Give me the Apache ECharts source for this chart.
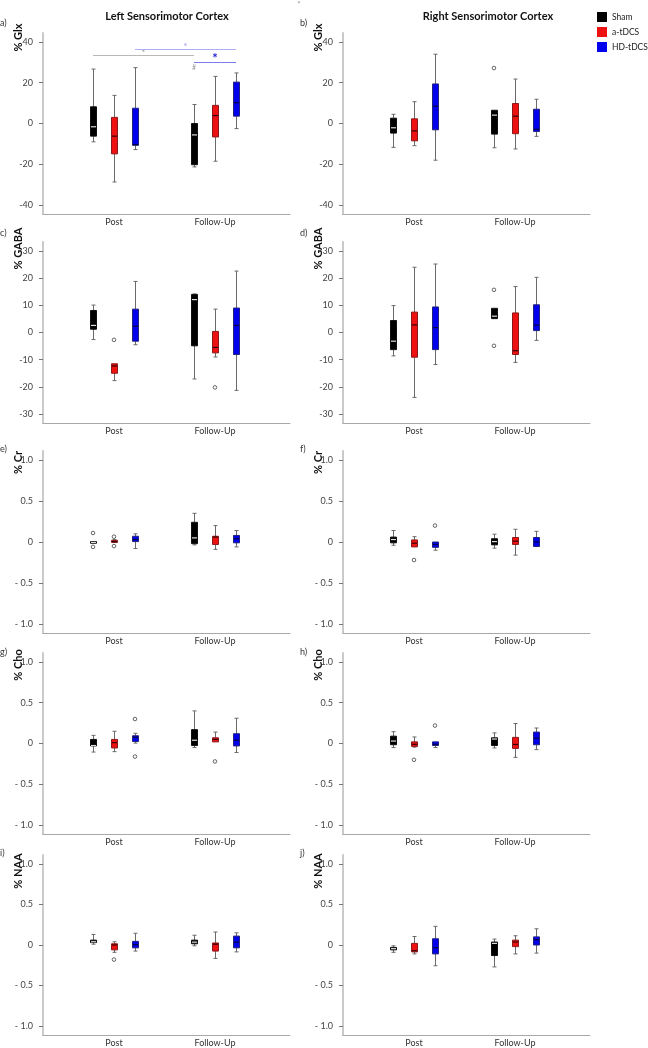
<!DOCTYPE html>
<html>
<head>
<meta charset="utf-8">
<script src="https://cdn.jsdelivr.net/npm/echarts@6/dist/echarts.min.js"></script>
<style>
html,body{margin:0;padding:0;background:#fff;}
#chart{width:648px;height:1048px;}
</style>
</head>
<body>
<div id="chart"></div>
<script>
// ---------------- DATA ----------------
const categories = ['Post', 'Follow-Up'];
const treatments = ['Sham', 'a-tDCS', 'HD-tDCS'];
const hemispheres = ['Left Sensorimotor Cortex', 'Right Sensorimotor Cortex'];
const metabolites = ['% Glx', '% GABA', '% Cr', '% Cho', '% NAA'];
const panelLetters = ['a)', 'b)', 'c)', 'd)', 'e)', 'f)', 'g)', 'h)', 'i)', 'j)'];

const glxTicks = [-40, -20, 0, 20, 40];
const glxTickLabels = ['-40', '-20', '0', '20', '40'];
const gabaTicks = [-30, -20, -10, 0, 10, 20, 30];
const gabaTickLabels = ['-30', '-20', '-10', '0', '10', '20', '30'];
const ratioTicks = [-1, -0.5, 0, 0.5, 1];
const ratioTickLabels = ['- 1.0', '- 0.5', '0', '0.5', '1.0'];

// box stats per treatment (Sham, a-tDCS, HD-tDCS): [Post, Follow-Up], each [min, q1, median, q3, max]
const glxLeft = [
  [[-9.0, -6.2, -1.6, 8.2, 26.7], [-21.3, -20.2, -5.6, 0.0, 9.3]],
  [[-28.7, -14.9, -6.2, 3.0, 13.8], [-18.5, -6.6, 3.9, 8.9, 23.1]],
  [[-12.8, -10.7, -10.3, 7.5, 27.4], [-2.5, 3.6, 10.2, 20.3, 24.8]]
];
const glxRight = [
  [[-11.7, -4.7, -2.1, 2.6, 4.5], [-11.9, -5.2, 4.1, 6.5, 6.5]],
  [[-10.9, -8.5, -3.6, 2.3, 10.7], [-12.5, -5.0, 3.6, 9.8, 21.8]],
  [[-18.0, -3.1, 8.5, 19.4, 34.0], [-6.3, -3.9, -2.8, 7.0, 11.9]]
];
const gabaLeft = [
  [[-2.6, 1.2, 2.6, 8.1, 10.1], [-17.1, -4.9, 12.1, 14.0, 14.2]],
  [[-17.7, -15.0, -12.3, -11.5, -11.5], [-9.0, -7.5, -5.5, 0.4, 8.6]],
  [[-4.5, -3.2, 2.3, 8.6, 18.8], [-21.3, -8.1, 2.6, 9.0, 22.6]]
];
const gabaRight = [
  [[-8.6, -6.3, -3.2, 4.4, 9.9], [5.1, 5.1, 6.0, 8.9, 8.9]],
  [[-23.9, -9.1, 2.8, 7.5, 24.0], [-11.0, -8.1, -6.7, 7.2, 16.9]],
  [[-11.8, -6.3, 1.8, 9.4, 25.2], [-2.9, 0.7, 2.7, 10.2, 20.3]]
];
const crLeft = [
  [[-0.02, -0.015, -0.005, 0.005, 0.01], [-0.035, -0.02, 0.05, 0.24, 0.35]],
  [[-0.01, -0.005, 0.005, 0.02, 0.03], [-0.09, -0.03, 0.06, 0.07, 0.20]],
  [[-0.08, 0.005, 0.03, 0.07, 0.10], [-0.06, -0.01, 0.04, 0.08, 0.14]]
];
const crRight = [
  [[-0.04, -0.01, 0.03, 0.06, 0.14], [-0.075, -0.035, 0.005, 0.04, 0.095]],
  [[-0.06, -0.06, -0.015, 0.025, 0.065], [-0.16, -0.03, 0.01, 0.055, 0.155]],
  [[-0.10, -0.065, -0.03, 0.0, 0.0], [-0.06, -0.055, 0.0, 0.055, 0.13]]
];
const choLeft = [
  [[-0.105, -0.03, -0.025, 0.05, 0.10], [-0.05, -0.025, 0.04, 0.17, 0.40]],
  [[-0.10, -0.055, 0.01, 0.05, 0.15], [0.02, 0.02, 0.05, 0.07, 0.14]],
  [[0.005, 0.025, 0.077, 0.095, 0.125], [-0.11, -0.03, 0.04, 0.12, 0.31]]
];
const choRight = [
  [[-0.05, -0.015, 0.03, 0.09, 0.145], [-0.055, -0.025, 0.055, 0.07, 0.13]],
  [[-0.045, -0.035, -0.01, 0.02, 0.08], [-0.17, -0.06, -0.012, 0.075, 0.245]],
  [[-0.05, -0.025, -0.01, 0.02, 0.02], [-0.075, -0.015, 0.065, 0.14, 0.19]]
];
const naaLeft = [
  [[0.01, 0.03, 0.04, 0.06, 0.13], [-0.01, 0.015, 0.035, 0.06, 0.12]],
  [[-0.09, -0.06, 0.0, 0.015, 0.04], [-0.165, -0.075, 0.01, 0.025, 0.16]],
  [[-0.075, -0.035, 0.005, 0.045, 0.145], [-0.085, -0.035, 0.035, 0.11, 0.15]]
];
const naaRight = [
  [[-0.09, -0.06, -0.045, -0.03, -0.01], [-0.27, -0.13, 0.02, 0.037, 0.073]],
  [[-0.11, -0.085, -0.07, 0.02, 0.105], [-0.11, -0.02, 0.037, 0.06, 0.114]],
  [[-0.256, -0.11, -0.033, 0.077, 0.23], [-0.1, 0.0, 0.065, 0.1, 0.2]]
];

// outliers: [treatmentIndex, categoryIndex, value]
const glxLeftOut = [];
const glxRightOut = [[0, 1, 27.2]];
const gabaLeftOut = [[1, 0, -2.7], [1, 1, -20.2]];
const gabaRightOut = [[0, 1, 15.7], [0, 1, -4.9]];
const crLeftOut = [[0, 0, 0.11], [0, 0, -0.06], [1, 0, 0.065], [1, 0, -0.05]];
const crRightOut = [[1, 0, -0.22], [2, 0, 0.20]];
const choLeftOut = [[2, 0, 0.30], [2, 0, -0.16], [1, 1, -0.22]];
const choRightOut = [[1, 0, -0.20], [2, 0, 0.22]];
const naaLeftOut = [[1, 0, -0.18]];
const naaRightOut = [];

// significance bars in panel a: [fromCat, fromTreatment, toCat, toTreatment, value, styleIndex]
const sigBars = [[0, 0, 1, 0, 33.7, 0], [0, 2, 1, 2, 36.6, 1], [1, 0, 1, 2, 30.2, 2]];
const sigStars = ['*', '*', '*'];
const hashMark = [1, 0, 27.5]; // '#' above sham follow-up, panel a

// ---------------- STYLE / LAYOUT ----------------
const FONT = 'Lato, "Open Sans", sans-serif';
const fills = ['#000000', '#ee1111', '#0000ee'];
const borders = ['#111111', '#8a1a1a', '#22227a'];
const medians = ['#dddddd', '#330000', '#000044'];
const whiskerColor = '#6a6a6a';
const OFFSETS = [-21, 0, 21];
const HALF_W = 3, CAP_W = 2;
const sigLineColors = ['#b8b8b8', '#aeaef2', '#7c7cee'];
const sigStarColors = ['#9a9a9a', '#9c9cee', '#1c1cd6'];
const sigStarSizes = [10, 10, 13];

const colLeft = [43, 343];
const gridWidth = 247;
const rowTop = [33, 242, 451, 653, 855];
const rowHeight = [181, 181, 182, 181, 182];
const rowRange = [44.4, 33.3, 1.11, 1.11, 1.11];
const rowTicks = [glxTicks, gabaTicks, ratioTicks, ratioTicks, ratioTicks];
const rowTickLabels = [glxTickLabels, gabaTickLabels, ratioTickLabels, ratioTickLabels, ratioTickLabels];
const xMin = 0.297, xMax = 2.743;

const panelStats = [glxLeft, glxRight, gabaLeft, gabaRight, crLeft, crRight, choLeft, choRight, naaLeft, naaRight];
const panelOut = [glxLeftOut, glxRightOut, gabaLeftOut, gabaRightOut, crLeftOut, crRightOut, choLeftOut, choRightOut, naaLeftOut, naaRightOut];

const nameCenterY = [37.5, 248.5, 462.5, 665, 871];
const nameX = [18.5, 318.5];
const letterX = [0, 300];
const letterY = [23, 233, 449, 652, 853];

function px(v) { return Math.round(v) + 0.5; }

function boxRender(t) {
  return function (params, api) {
    const x = api.value(0);
    const mn = api.value(1), q1 = api.value(2), md = api.value(3), q3 = api.value(4), mx = api.value(5);
    const cx = px(api.coord([x, md])[0] + OFFSETS[t]);
    const y = v => api.coord([x, v])[1];
    const yMin = y(mn), yQ1 = y(q1), yMd = y(md), yQ3 = y(q3), yMax = y(mx);
    const ls = { stroke: whiskerColor, lineWidth: 1 };
    const children = [];
    if (yMax < yQ3 - 0.5) {
      children.push({ type: 'line', shape: { x1: cx, y1: yMax, x2: cx, y2: yQ3 }, style: ls });
      children.push({ type: 'line', shape: { x1: cx - CAP_W, y1: yMax, x2: cx + CAP_W, y2: yMax }, style: ls });
    }
    if (yMin > yQ1 + 0.5) {
      children.push({ type: 'line', shape: { x1: cx, y1: yQ1, x2: cx, y2: yMin }, style: ls });
      children.push({ type: 'line', shape: { x1: cx - CAP_W, y1: yMin, x2: cx + CAP_W, y2: yMin }, style: ls });
    }
    children.push({
      type: 'rect',
      shape: { x: cx - HALF_W, y: yQ3, width: HALF_W * 2, height: Math.max(yQ1 - yQ3, 1.5) },
      style: { fill: fills[t], stroke: borders[t], lineWidth: 1 }
    });
    children.push({
      type: 'line',
      shape: { x1: cx - HALF_W + 0.5, y1: yMd, x2: cx + HALF_W - 0.5, y2: yMd },
      style: { stroke: medians[t], lineWidth: 1.2 }
    });
    return { type: 'group', children: children };
  };
}

function outlierRender(params, api) {
  const x = api.value(0), v = api.value(1), t = api.value(2);
  const p = api.coord([x, v]);
  return {
    type: 'circle',
    shape: { cx: p[0] + OFFSETS[t], cy: p[1], r: 1.8 },
    style: { fill: '#fff', stroke: '#555', lineWidth: 0.9 }
  };
}

function sigRender(params, api) {
  const c1 = api.value(0), t1 = api.value(1), c2 = api.value(2), t2 = api.value(3), v = api.value(4), s = api.value(5);
  const p1 = api.coord([c1, v]), p2 = api.coord([c2, v]);
  const x1 = p1[0] + OFFSETS[t1], x2 = p2[0] + OFFSETS[t2];
  const yy = Math.round(p1[1]) + 0.5;
  return {
    type: 'group',
    children: [
      { type: 'line', shape: { x1: x1, y1: yy, x2: x2, y2: yy }, style: { stroke: sigLineColors[s], lineWidth: 1.2 } },
      { type: 'text', x: (x1 + x2) / 2, y: yy + (s === 2 ? 3 : 2),
        style: { text: sigStars[s], fill: sigStarColors[s], font: (s === 2 ? 'bold ' : '') + sigStarSizes[s] + 'px ' + FONT,
          align: 'center', verticalAlign: 'bottom', textAlign: 'center', textVerticalAlign: 'bottom' } }
    ]
  };
}

function hashRender(params, api) {
  const p = api.coord([api.value(0), api.value(2)]);
  return {
    type: 'text', x: p[0] + OFFSETS[api.value(1)], y: p[1],
    style: { text: '#', fill: '#999', font: '7px ' + FONT, align: 'center', verticalAlign: 'middle', textAlign: 'center', textVerticalAlign: 'middle' }
  };
}

const grids = [], xAxes = [], yAxes = [], series = [], graphics = [];

for (let p = 0; p < 10; p++) {
  const row = Math.floor(p / 2), col = p % 2;
  grids.push({ left: colLeft[col], top: rowTop[row], width: gridWidth, height: rowHeight[row], containLabel: false });
  xAxes.push({
    gridIndex: p, type: 'value', min: xMin, max: xMax,
    axisLine: { show: true, onZero: false, lineStyle: { color: '#a8a8a8', width: 1 } },
    axisTick: { show: false },
    axisLabel: {
      customValues: [1, 2],
      formatter: v => categories[Math.round(v) - 1],
      fontSize: 9, color: '#333', margin: 4, fontFamily: FONT
    },
    splitLine: { show: false }
  });
  const ticks = rowTicks[row], labels = rowTickLabels[row];
  yAxes.push({
    gridIndex: p, type: 'value', min: -rowRange[row], max: rowRange[row],
    axisLine: { show: true, onZero: false, lineStyle: { color: '#cacaca', width: 2 } },
    axisTick: { show: true, length: 4, customValues: ticks, lineStyle: { color: '#777', width: 1 } },
    axisLabel: {
      customValues: ticks,
      formatter: v => { const i = ticks.findIndex(tv => Math.abs(tv - v) < 1e-9); return i >= 0 ? labels[i] : ''; },
      fontSize: 9, color: '#444', margin: 10, fontFamily: FONT
    },
    splitLine: { show: false }
  });
  for (let t = 0; t < 3; t++) {
    series.push({
      name: treatments[t], type: 'custom', xAxisIndex: p, yAxisIndex: p,
      renderItem: boxRender(t),
      itemStyle: { color: fills[t] },
      encode: { x: 0, y: [1, 2, 3, 4, 5] },
      data: panelStats[p][t].map((s, c) => [c + 1].concat(s)),
      z: 3, silent: true
    });
  }
  if (panelOut[p].length) {
    series.push({
      type: 'custom', xAxisIndex: p, yAxisIndex: p, renderItem: outlierRender,
      encode: { x: 0, y: 1 },
      data: panelOut[p].map(o => [o[1] + 1, o[2], o[0]]), z: 4, silent: true
    });
  }
  graphics.push({
    type: 'text', x: nameX[col], y: nameCenterY[row], rotation: Math.PI / 2,
    style: { text: metabolites[row], font: 'bold 11px ' + FONT, fill: '#111', align: 'center', verticalAlign: 'middle', textAlign: 'center', textVerticalAlign: 'middle' }
  });
  graphics.push({
    type: 'text', x: letterX[col], y: letterY[row],
    style: { text: panelLetters[p], font: '9px ' + FONT, fill: '#333', align: 'left', verticalAlign: 'middle', textAlign: 'left', textVerticalAlign: 'middle' }
  });
}

series.push({
  type: 'custom', xAxisIndex: 0, yAxisIndex: 0, renderItem: sigRender,
  encode: { x: [0, 2], y: 4 },
  data: sigBars.map(b => [b[0] + 1, b[1], b[2] + 1, b[3], b[4], b[5]]), z: 5, silent: true
});
series.push({
  type: 'custom', xAxisIndex: 0, yAxisIndex: 0, renderItem: hashRender,
  encode: { x: 0, y: 2 },
  data: [[hashMark[0] + 1, hashMark[1], hashMark[2]]], z: 5, silent: true
});

graphics.push({
  type: 'text', x: 167, y: 16,
  style: { text: hemispheres[0], font: 'bold 11px ' + FONT, fill: '#111', align: 'center', verticalAlign: 'middle', textAlign: 'center', textVerticalAlign: 'middle' }
});
graphics.push({
  type: 'text', x: 488, y: 16,
  style: { text: hemispheres[1], font: 'bold 11px ' + FONT, fill: '#111', align: 'center', verticalAlign: 'middle', textAlign: 'center', textVerticalAlign: 'middle' }
});
graphics.push({
  type: 'text', x: 299, y: 4,
  style: { text: '*', font: '8px ' + FONT, fill: '#999', align: 'center', verticalAlign: 'middle', textAlign: 'center', textVerticalAlign: 'middle' }
});

const chart = echarts.init(document.getElementById('chart'), null, { renderer: 'canvas' });
chart.setOption({
  animation: false,
  backgroundColor: '#fff',
  grid: grids,
  xAxis: xAxes,
  yAxis: yAxes,
  legend: {
    data: treatments.map((n, i) => ({ name: n, icon: 'rect', itemStyle: { color: fills[i], borderColor: fills[i], borderWidth: 0 } })),
    orient: 'vertical', left: 597, top: 12, itemWidth: 10, itemHeight: 10, itemGap: 5, itemTextGap: 3, padding: 0,
    selectedMode: false,
    textStyle: { fontSize: 8.5, color: '#222', fontFamily: FONT, padding: [0, 0, 0, 0], width: 40, overflow: 'none' }
  },
  graphic: graphics,
  series: series
});
</script>
</body>
</html>
